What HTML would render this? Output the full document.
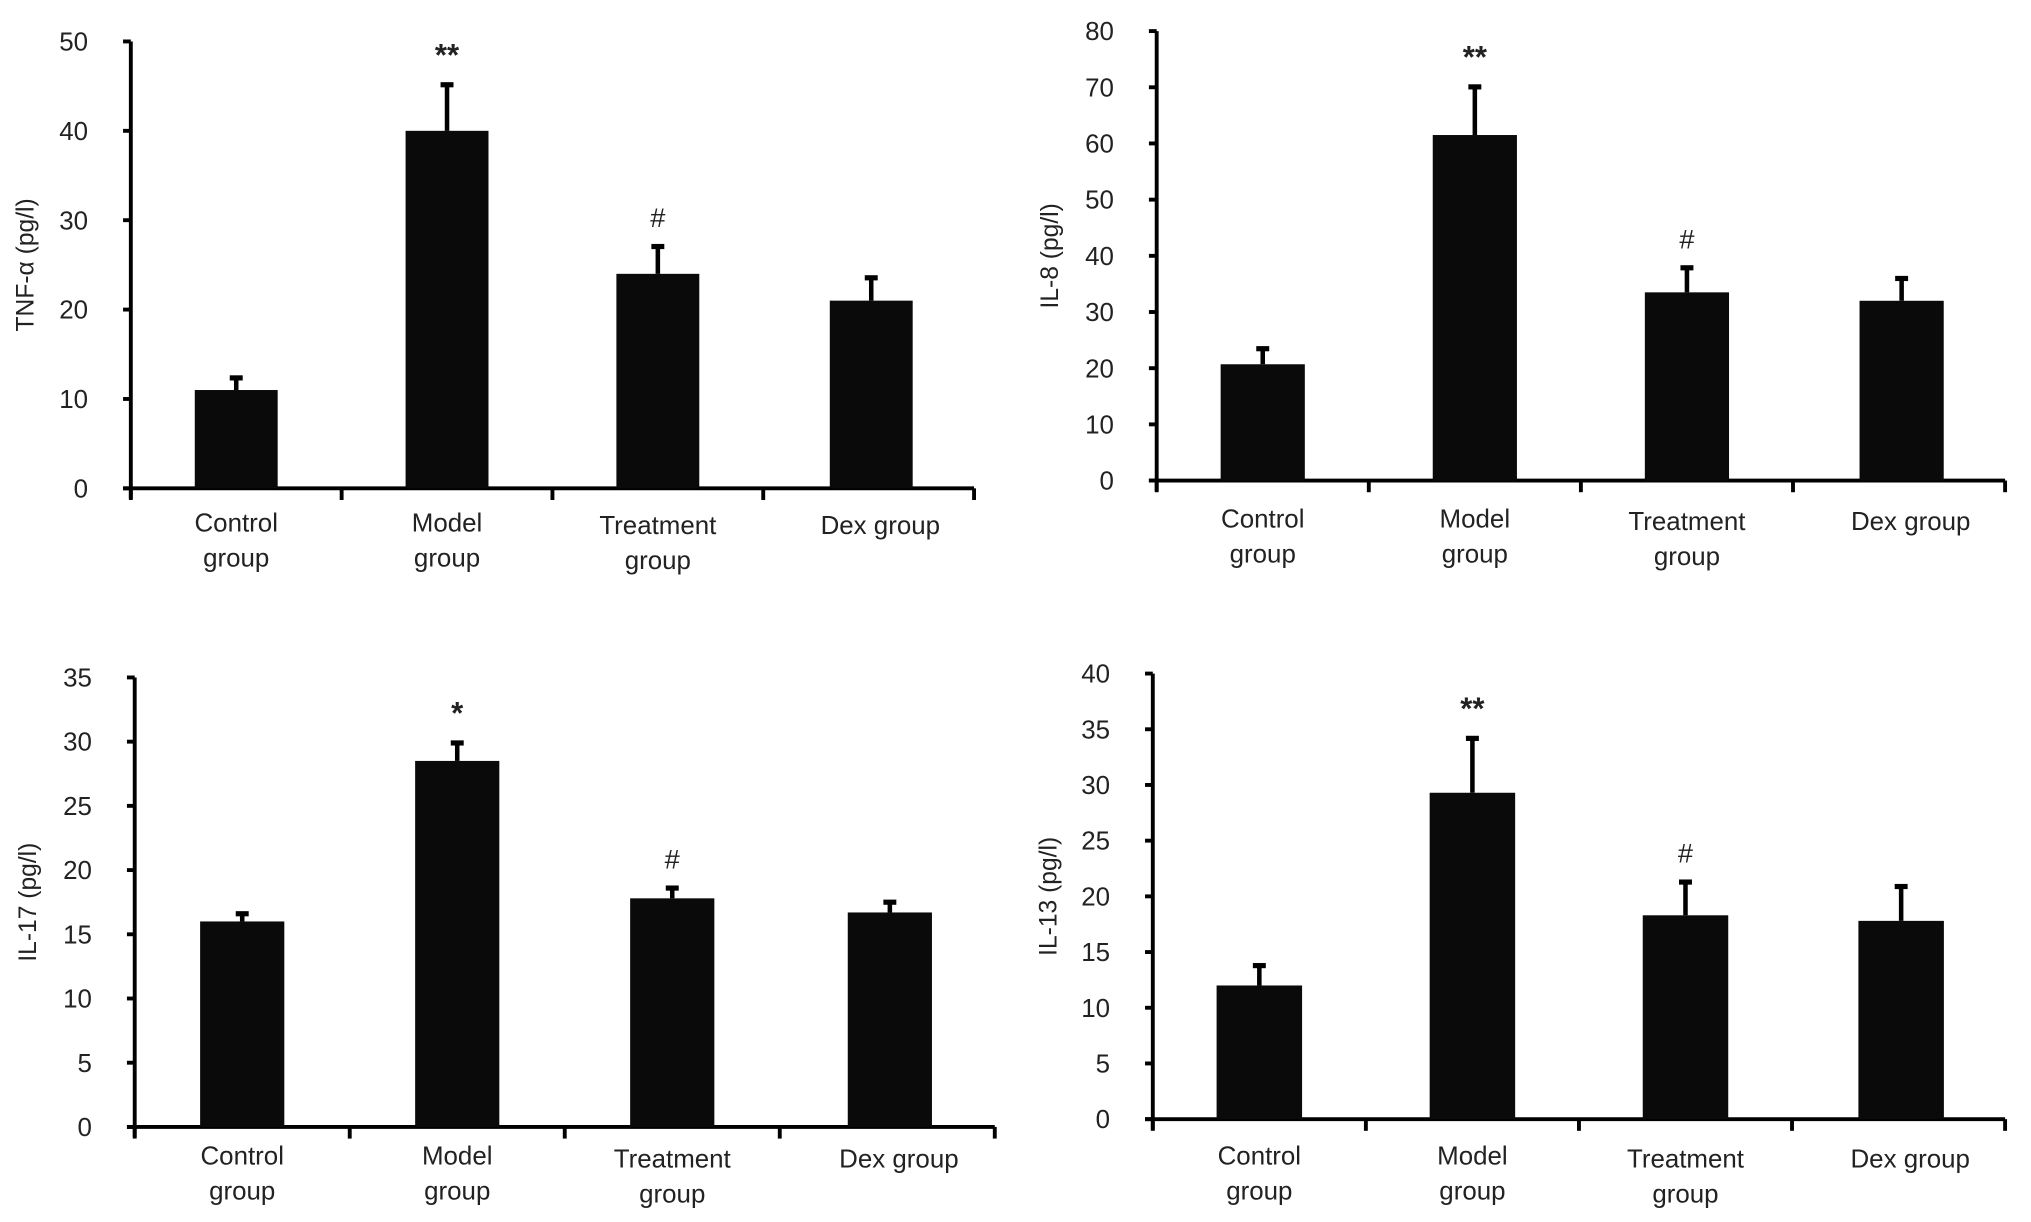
<!DOCTYPE html>
<html><head><meta charset="utf-8">
<style>
html,body{margin:0;padding:0;background:#fff;}
svg{display:block;}
text{font-family:"Liberation Sans",sans-serif;fill:#222;}
</style></head>
<body>
<svg id="fig" width="2031" height="1222" viewBox="0 0 1568 943.4" preserveAspectRatio="none" xmlns="http://www.w3.org/2000/svg"></svg>
<script>
const categories = ["Control|group","Model|group","Treatment|group","Dex group"];
const tnfValues = [11, 40, 24, 21];
const tnfErrors = [1.5, 5.3, 3.2, 2.7];
const il8Values = [20.7, 61.5, 33.5, 32];
const il8Errors = [3, 8.8, 4.6, 4.2];
const il17Values = [16, 28.5, 17.8, 16.7];
const il17Errors = [0.7, 1.5, 0.9, 0.9];
const il13Values = [12, 29.3, 18.3, 17.8];
const il13Errors = [1.9, 5, 3.1, 3.2];
const tnfTicks = [0,10,20,30,40,50];
const il8Ticks = [0,10,20,30,40,50,60,70,80];
const il17Ticks = [0,5,10,15,20,25,30,35];
const il13Ticks = [0,5,10,15,20,25,30,35,40];
const tnfMarks = ["","**","#",""];
const il8Marks = ["","**","#",""];
const il17Marks = ["","*","#",""];
const il13Marks = ["","**","#",""];

const NS="http://www.w3.org/2000/svg";
const svg=document.getElementById('fig');
function mk(tag,attrs,parent){const e=document.createElementNS(NS,tag);for(const k in attrs)e.setAttribute(k,attrs[k]);parent.appendChild(e);return e;}

const panels=[
 {id:'tnf',title:'TNF-α (pg/l)',vals:tnfValues,errs:tnfErrors,ticks:tnfTicks,marks:tnfMarks,x0:101,x1:752,yTop:32,y0:377,lblY:404,ylx:20,barW:64},
 {id:'il8',title:'IL-8 (pg/l)',vals:il8Values,errs:il8Errors,ticks:il8Ticks,marks:il8Marks,x0:893,x1:1548,yTop:24,y0:371,lblY:401,ylx:811,barW:65},
 {id:'il17',title:'IL-17 (pg/l)',vals:il17Values,errs:il17Errors,ticks:il17Ticks,marks:il17Marks,x0:104,x1:768,yTop:523,y0:870,lblY:893,ylx:22,barW:65},
 {id:'il13',title:'IL-13 (pg/l)',vals:il13Values,errs:il13Errors,ticks:il13Ticks,marks:il13Marks,x0:890,x1:1548,yTop:520,y0:864,lblY:893,ylx:810,barW:66}
];

panels.forEach(p=>{
 const g=mk('g',{},svg);
 
 
 const max=p.ticks[p.ticks.length-1];
 const yS=v=>p.y0-(v/max)*(p.y0-p.yTop);
 const slot=(p.x1-p.x0)/categories.length;
 const xC=i=>p.x0+slot*(i+0.5);
 const ya=mk('line',{x1:p.x0,y1:p.yTop,x2:p.x0,y2:p.y0+8,stroke:'#000','stroke-width':3},g);
 
 
 p.ticks.forEach(t=>{
  const y=yS(t);
  mk('line',{x1:p.x0-6,y1:y,x2:p.x0,y2:y,stroke:'#000','stroke-width':3},g);
  const tx=mk('text',{x:p.x0-33,y:y+7,'text-anchor':'end','font-size':20},g);
  tx.textContent=t;
  
  
 });
 const yl=mk('text',{x:p.ylx,y:(p.yTop+p.y0)/2,'text-anchor':'middle','font-size':19,transform:`rotate(-90 ${p.ylx} ${(p.yTop+p.y0)/2})`,'dominant-baseline':'central'},g);
 yl.textContent=p.title;
 
 
 const xa=mk('line',{x1:p.x0-6,y1:p.y0,x2:p.x1,y2:p.y0,stroke:'#000','stroke-width':3},g);
 
 
 for(let i=0;i<=categories.length;i++){
  const x=p.x0+slot*i;
  mk('line',{x1:x,y1:p.y0,x2:x,y2:p.y0+9,stroke:'#000','stroke-width':3},g);
 }
 categories.forEach((c,i)=>{
  const v=p.vals[i],e=p.errs[i],cx=xC(i)+(i===3?2:0);
  const top=yS(v);
  const b=mk('rect',{x:cx-p.barW/2,y:top,width:p.barW,height:p.y0-top,fill:'#0a0a0a'},g);
  
  
  const eb=mk('line',{x1:cx,y1:top,x2:cx,y2:yS(v+e),stroke:'#000','stroke-width':3.5},g);
  
  
  mk('line',{x1:cx-5,y1:yS(v+e)+1,x2:cx+5,y2:yS(v+e)+1,stroke:'#000','stroke-width':4},g);
  if(p.marks[i]){
   const m=mk('text',{x:cx,y:yS(v+e)-14,'text-anchor':'middle','font-size':p.marks[i]==='#'?21:24,'font-weight':p.marks[i]==='#'?'normal':'bold'},g);
   m.textContent=p.marks[i];
   
   
  }
  const parts=c.split('|');
  parts.forEach((s,k)=>{
   const t=mk('text',{x:cx+(i===3?7:0),y:p.lblY+k*27+(parts.length===1?2:0)+(i===2?2:0),'text-anchor':'middle','font-size':20,'dominant-baseline':'central'},g);
   t.textContent=s;
   
   
  });
 });
});
</script>
</body></html>
